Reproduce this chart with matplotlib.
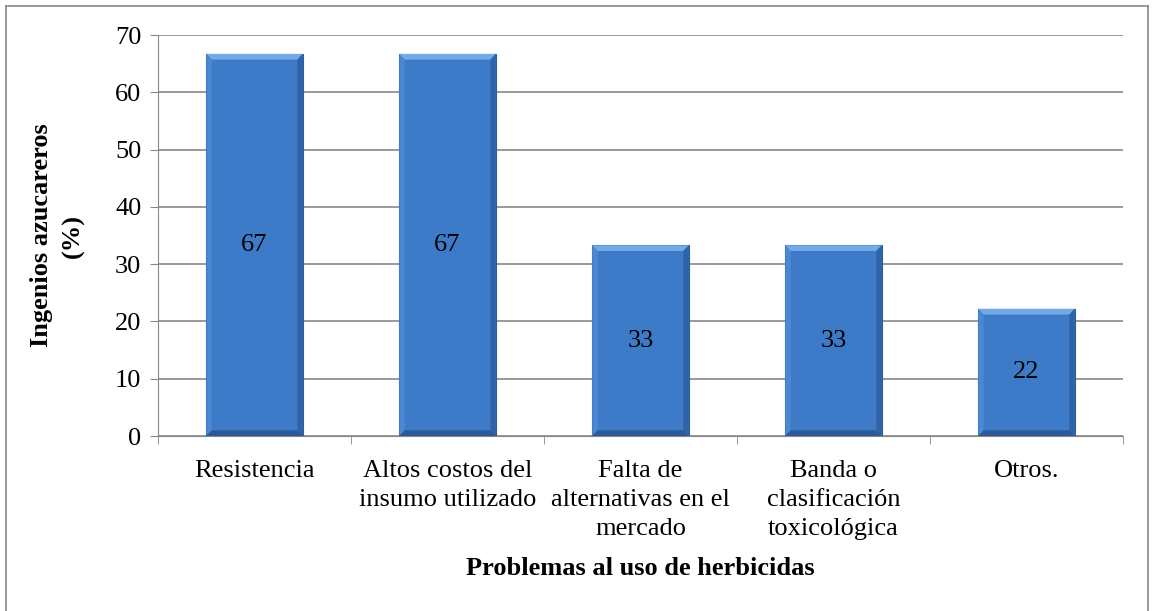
import matplotlib.pyplot as plt
from matplotlib.lines import Line2D

plt.rcParams['font.family'] = ['Liberation Serif', 'DejaVu Serif']

categories = ["Resistencia", "Altos costos del\ninsumo utilizado",
              "Falta de\nalternativas en el\nmercado",
              "Banda o\nclasificación\ntoxicológica", "Otros."]
values = [66.7, 66.7, 33.3, 33.3, 22.2]
labels = ["67", "67", "33", "33", "22"]
yticks = [0, 10, 20, 30, 40, 50, 60, 70]

fig = plt.figure(figsize=(11.52, 6.11), dpi=100)
ax = fig.add_axes([0.1372, 0.2864, 0.8376, 0.6563])

x = list(range(len(categories)))
bars = ax.bar(x, values, width=0.5, color="#3D7BC9", edgecolor="#2E5D9A",
              linewidth=0.8, zorder=3)

# bevel look, sizes in data units (about 5 px)
bx, by = 0.028, 1.0
for b in bars:
    x0, x1 = b.get_x(), b.get_x() + b.get_width()
    h = b.get_height()
    ax.fill([x0, x1, x1 - bx, x0 + bx], [h, h, h - by, h - by],
            color="#74A9E8", zorder=4, linewidth=0)
    ax.fill([x0, x0 + bx, x0 + bx, x0], [h, h - by, by, 0],
            color="#4B88D4", zorder=4, linewidth=0)
    ax.fill([x1, x1 - bx, x1 - bx, x1], [h, h - by, by, 0],
            color="#2F62A6", zorder=4, linewidth=0)
    ax.fill([x0, x1, x1 - bx, x0 + bx], [0, 0, by, by],
            color="#2C5A97", zorder=4, linewidth=0)

for xi, v, lab in zip(x, values, labels):
    ax.text(xi, v / 2, lab, ha="center", va="center", fontsize=19, zorder=5)

ax.set_xlim(-0.5, len(categories) - 0.5)
ax.set_ylim(0, 70)
ax.set_yticks(yticks)
ax.set_xticks(x)
ax.set_xticklabels(categories, fontsize=19, linespacing=1.42)
ax.set_xticks([i - 0.5 for i in range(len(categories) + 1)], minor=True)
ax.tick_params(axis="x", which="major", length=0, pad=17)
ax.tick_params(axis="x", which="minor", length=6, color="#888888")
ax.tick_params(axis="y", length=6, color="#888888", labelsize=19, pad=6)
ax.grid(axis="y", color="#888888", linewidth=1.2, zorder=0)

for s in ["top", "right"]:
    ax.spines[s].set_visible(False)
ax.spines["left"].set_color("#888888")
ax.spines["bottom"].set_color("#888888")

ax.set_ylabel("Ingenios azucareros\n(%)", fontsize=19, fontweight="bold",
              linespacing=1.42, labelpad=22)
ax.set_xlabel("Problemas al uso de herbicidas", fontsize=19, fontweight="bold",
              labelpad=12)

# outer chart border (bottom edge is cut off in the original)
W, H = 1152, 611
bl, br, bt = 6 / W, 1148 / W, 1 - 6 / H
for xs, ys in [([bl, bl], [0, bt]), ([bl, br], [bt, bt]), ([br, br], [bt, 0])]:
    fig.add_artist(Line2D(xs, ys, transform=fig.transFigure,
                          color="#888888", linewidth=1.2))

fig.savefig("out.png", dpi=100)
